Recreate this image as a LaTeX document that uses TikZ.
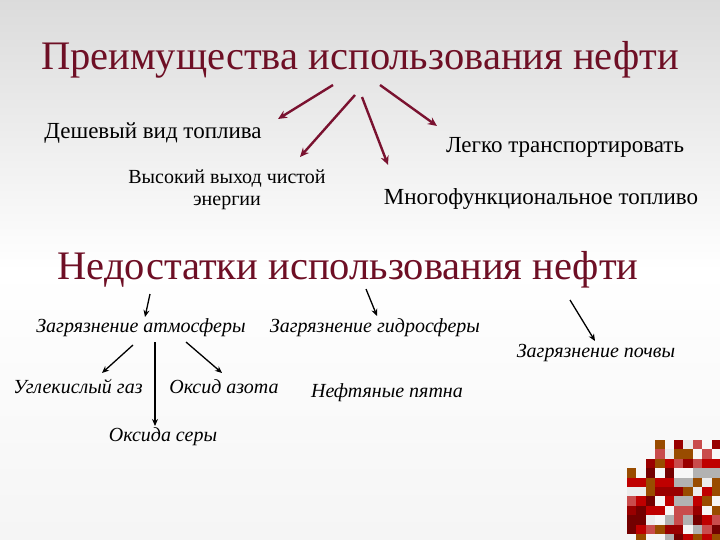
\documentclass[tikz,border=0pt]{standalone}
\usepackage{fontspec}
\setmainfont{Liberation Serif}
\usetikzlibrary{arrows.meta}
\definecolor{maroon}{HTML}{6E0F25}
\definecolor{arr}{HTML}{7A1230}
\begin{document}
\begin{tikzpicture}[x=1pt,y=-1pt,
 up/.style={draw=arr,line width=2.4pt,-{Stealth[length=9pt,width=8pt]}},
 dn/.style={draw=black,line width=1.3pt,-{Stealth[length=7pt,width=6pt]}},
 lab/.style={font=\fontsize{23}{26}\selectfont,inner sep=1pt},
 it/.style={font=\itshape\fontsize{20}{22}\selectfont,inner sep=1pt},
 ttl/.style={font=\fontsize{40.5}{44}\selectfont,text=maroon,inner sep=1pt}]
\shade[top color=gray!28,bottom color=gray!8,middle color=white] (0,0) rectangle (720,540);
\useasboundingbox (0,0) rectangle (720,540);
\node[ttl] (t1) at (360,60) {Преимущества использования нефти};
\node[lab] (a) at (153,133) {Дешевый вид топлива};
\node[lab] (b) at (565,147) {Легко транспортировать};
\node[font=\fontsize{20}{22}\selectfont,align=center,inner sep=1pt] (c) at (227,190) {Высокий выход чистой\\энергии};
\node[lab] (d) at (541,199) {Многофункциональное топливо};
\coordinate (s1) at (333,85); \coordinate (s2) at (355,95);
\coordinate (s3) at (362,97); \coordinate (s4) at (380,85);
\coordinate (e1) at (278,119); \coordinate (e2) at (300,157);
\coordinate (e3) at (388,165); \coordinate (e4) at (437,126);
\draw[up] (s1)--(e1); \draw[up] (s2)--(e2); \draw[up] (s3)--(e3); \draw[up] (s4)--(e4);
\node[ttl] (t2) at (348,270) {Недостатки использования нефти};
\node[it] (atm) at (141,328) {Загрязнение атмосферы};
\node[it] (gid) at (375,328) {Загрязнение гидросферы};
\node[it] (poc) at (596,353) {Загрязнение почвы};
\node[it] (ug) at (78,387) {Углекислый газ};
\node[it] (az) at (224,387) {Оксид азота};
\node[it] (nef) at (387,393) {Нефтяные пятна};
\node[it] (ser) at (163,437) {Оксида серы};
\coordinate (b1) at (150,294); \coordinate (b2) at (366,289); \coordinate (b3) at (570,300);
\draw[dn] (b1)--(145,317);
\draw[dn] (b2)--(377,316);
\draw[dn] (b3)--(595,341);
\draw[dn] (133,345)--(102,373);
\draw[dn] (155,342)--(155,426);
\draw[dn] (186,342)--(222,373);
\pgfmathsetseed{7}
\foreach \i in {0,...,9}{\foreach \j in {0,...,10}{
 \pgfmathsetmacro{\r}{rnd}
 \pgfmathsetmacro{\k}{int(floor(rnd*7))}
 \pgfmathsetmacro{\show}{(\i+\j>4 && \r>0.08) || (\i+\j>2 && \r>0.6) ? 1 : 0}
 \ifdim\show pt>0.5pt
 \ifcase\k \def\cc{red!60!black}\or\def\cc{red!45!black}\or\def\cc{gray!60}\or\def\cc{red!70!black!70!white}\or\def\cc{white!85!gray}\or\def\cc{red!75!black}\else\def\cc{orange!60!black}\fi
 \fill[\cc] (627+\i*9.4,440+\j*9.4) rectangle ++(9.4,9.4);
 \fi}}
\end{tikzpicture}
\end{document}
